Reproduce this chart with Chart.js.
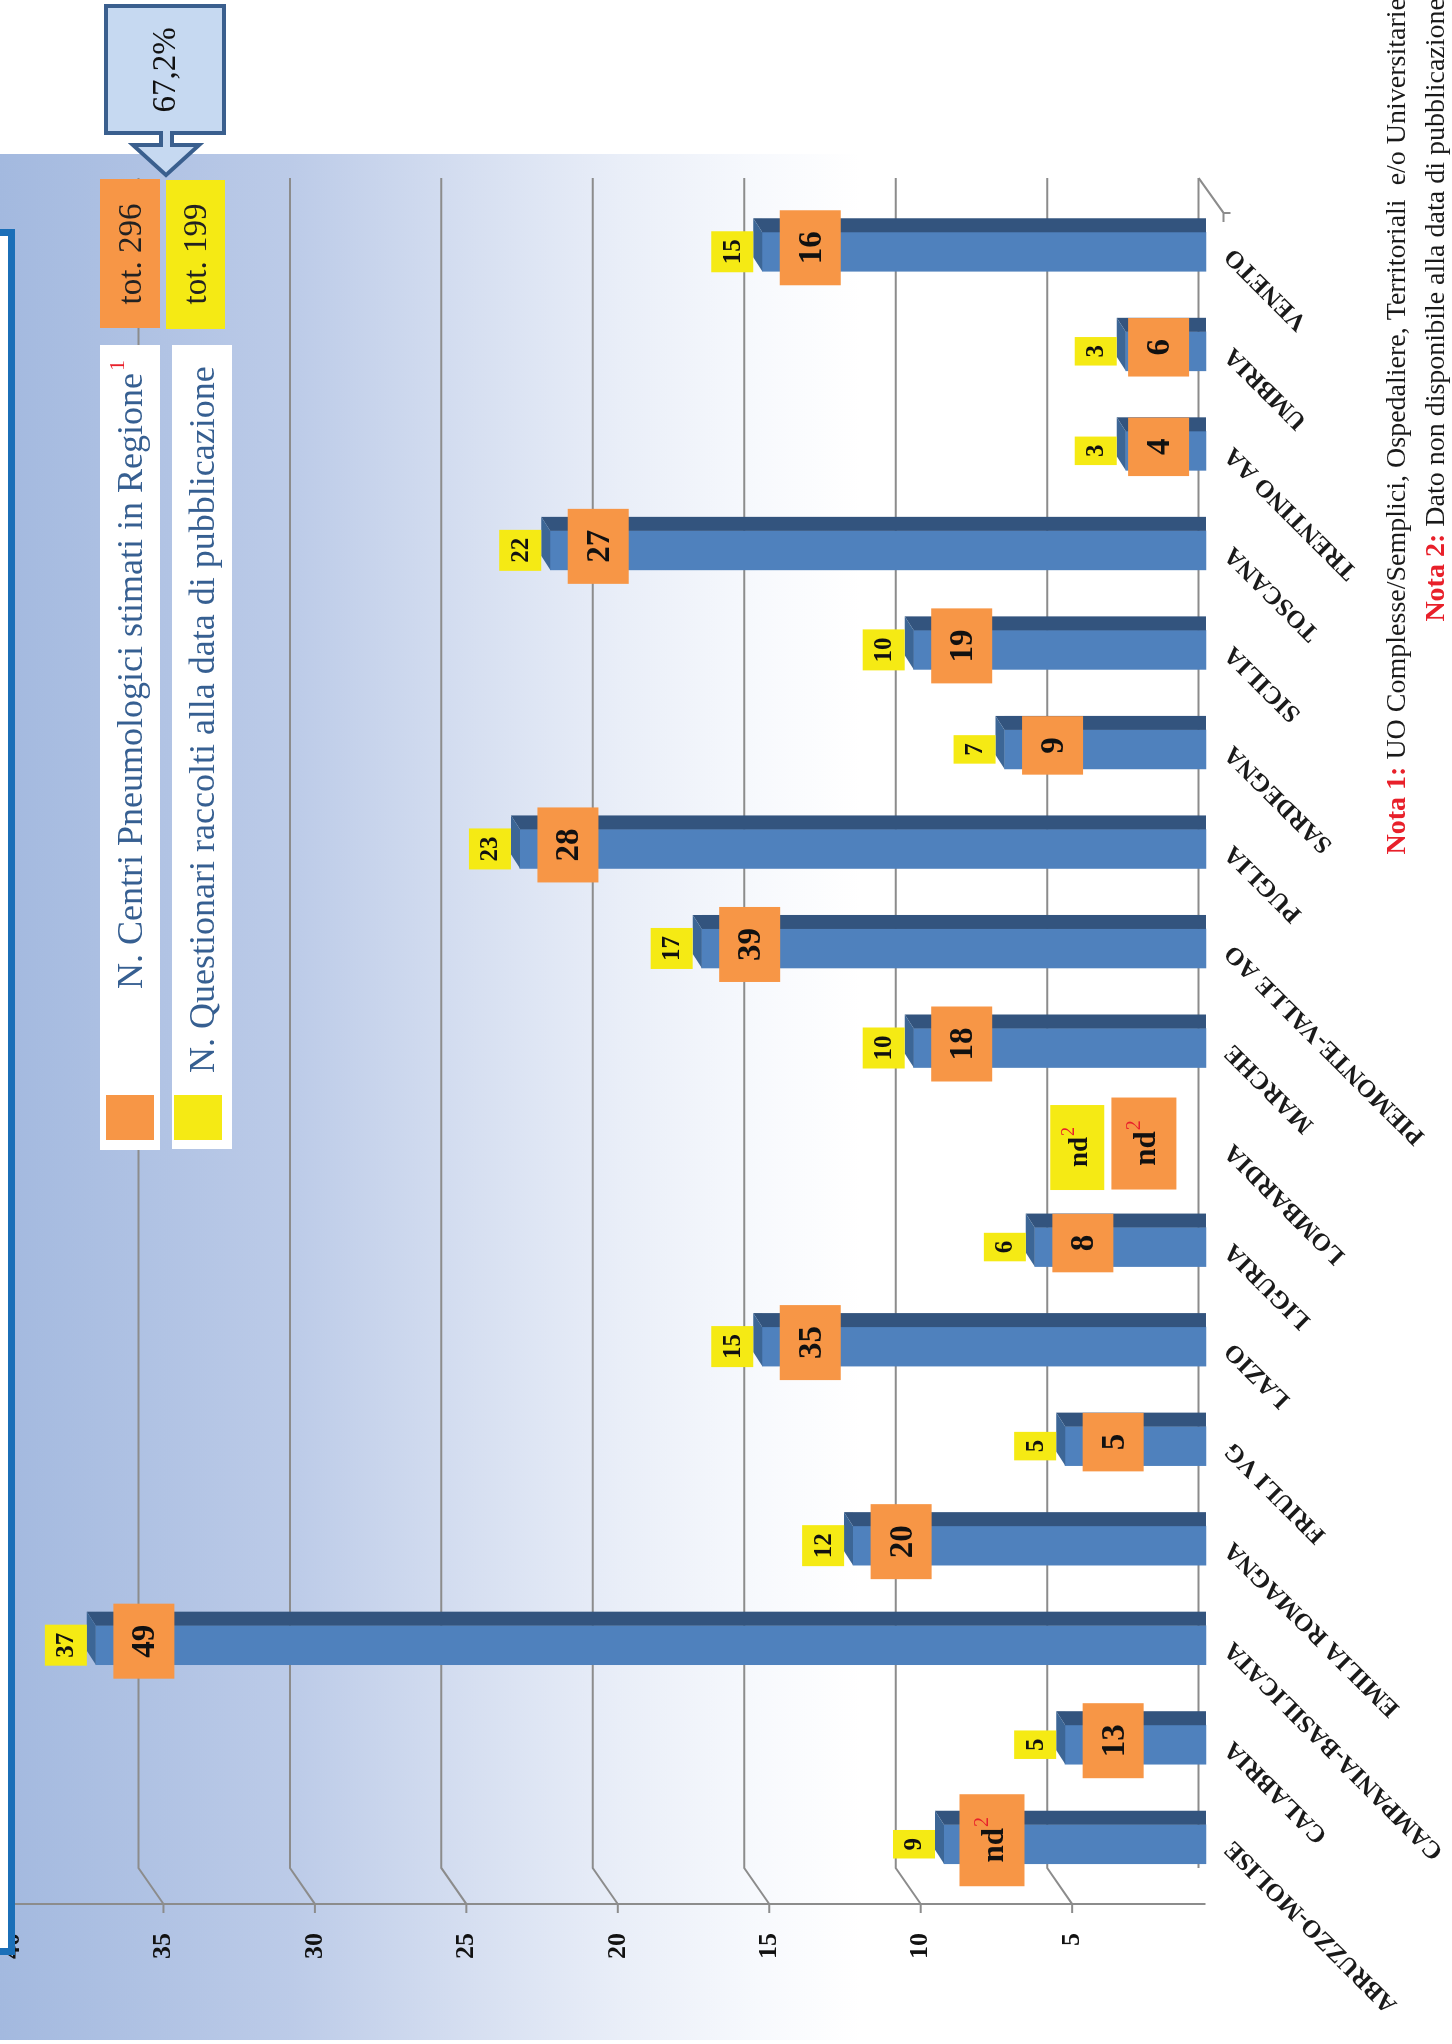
<!DOCTYPE html>
<html>
<head>
<meta charset="utf-8">
<script src="https://cdn.jsdelivr.net/npm/chart.js@4.4.0/dist/chart.umd.min.js"></script>
<style>
html, body { margin:0; padding:0; background:#fff; overflow:hidden; width:1452px; height:2044px; }
#wrap { position:absolute; left:0; top:0; width:2044px; height:1452px; transform-origin:0 0; transform:translate(0,2044px) rotate(-90deg); }
</style>
</head>
<body>
<div id="wrap"><canvas id="grafico" width="2044" height="1452"></canvas></div>
<script>
// dati
const regioni = ['ABRUZZO-MOLISE','CALABRIA','CAMPANIA-BASILICATA','EMILIA ROMAGNA','FRIULI VG','LAZIO','LIGURIA','LOMBARDIA','MARCHE','PIEMONTE-VALLE AO','PUGLIA','SARDEGNA','SICILIA','TOSCANA','TRENTINO AA','UMBRIA','VENETO'];
const centri = [null,13,49,20,5,35,8,null,18,39,28,9,19,27,4,6,16];        // N. Centri Pneumologici (nd = null)
const questionari = [9,5,37,12,5,15,6,null,10,17,23,7,10,22,3,3,15];     // N. Questionari raccolti
const valoriAsse = [0,5,10,15,20,25,30,35,40];
const legendaCentri = 'N. Centri Pneumologici stimati in Regione';
const legendaQuest = 'N. Questionari raccolti alla data di pubblicazione';
const nota1 = ['Nota 1:', ' UO Complesse/Semplici, Ospedaliere, Territoriali  e/o Universitarie'];
const nota2 = ['Nota 2:', ' Dato non disponibile alla data di pubblicazione'];

const totC = centri.reduce((a,b)=>a+(b||0),0);
const totQ = questionari.reduce((a,b)=>a+(b||0),0);
const perc = (totQ/totC*100).toFixed(1).replace('.',',') + '%';

const SERIF = '"Liberation Serif", "Times New Roman", serif';
const ARANCIO = '#f79646', GIALLO = '#f5ea14';

function box(ctx, cx, cy, w, h, col){
	ctx.fillStyle = col;
	ctx.fillRect(cx-w/2, cy-h/2, w, h);
}
function testoNd(ctx, cx, cy, size){
	ctx.font = 'bold '+size+'px '+SERIF;
	const w1 = ctx.measureText('nd').width;
	ctx.font = Math.round(size*0.65)+'px '+SERIF;
	const w2 = ctx.measureText('2').width;
	const x0 = cx-(w1+w2)/2;
	ctx.textAlign = 'left'; ctx.textBaseline = 'middle';
	ctx.fillStyle = '#111';
	ctx.font = 'bold '+size+'px '+SERIF;
	ctx.fillText('nd', x0, cy+3);
	ctx.fillStyle = '#e8202a';
	ctx.font = Math.round(size*0.65)+'px '+SERIF;
	ctx.fillText('2', x0+w1+1, cy-size*0.3);
}

const sfondo = {
	id:'sfondo',
	beforeDraw(chart){
		const ctx = chart.ctx;
		const g = ctx.createLinearGradient(0,0,0,860);
		g.addColorStop(0,'#a3b9df');
		g.addColorStop(0.34,'#bccbe8');
		g.addColorStop(0.55,'#d6dff1');
		g.addColorStop(0.72,'#e9eef8');
		g.addColorStop(0.88,'#f7f9fd');
		g.addColorStop(1,'#ffffff');
		ctx.save();
		ctx.fillStyle = g;
		ctx.fillRect(4,0,1886,1452);
		ctx.restore();
	},
	beforeDatasetsDraw(chart){
		const ctx = chart.ctx, y = chart.scales.y;
		ctx.save();
		ctx.strokeStyle = '#8c8c8c';
		ctx.lineWidth = 2;
		valoriAsse.forEach(v=>{
			const p = y.getPixelForValue(v);
			if (v < 40){
				ctx.beginPath();
				ctx.moveTo(1866,p-18);
				ctx.lineTo(176,p-18);
				if (v > 0) ctx.lineTo(140,p+7);
				ctx.stroke();
			}
			if (v > 0){
				ctx.beginPath();
				ctx.moveTo(140,p+7); ctx.lineTo(131,p+7);
				ctx.stroke();
			}
		});
		// asse dei valori
		ctx.beginPath();
		ctx.moveTo(140,y.getPixelForValue(40)+7);
		ctx.lineTo(140,y.getPixelForValue(0)-11);
		ctx.stroke();
		// bordo del pavimento
		const p0 = y.getPixelForValue(0);
		ctx.beginPath();
		ctx.moveTo(1866,p0-18); ctx.lineTo(1831,p0+7); ctx.lineTo(1831,p0+14);
		ctx.moveTo(1831,p0+7); ctx.lineTo(1822,p0+7);
		ctx.stroke();
		ctx.restore();
	}
};

const barre3d = {
	id:'barre3d',
	afterDatasetsDraw(chart){
		const ctx = chart.ctx, meta = chart.getDatasetMeta(0);
		const xs = chart.scales.x, ys = chart.scales.y;
		ctx.save();
		meta.data.forEach((bar,i)=>{
			if (questionari[i] == null) return;
			const {x,y,base,width} = bar.getProps(['x','y','base','width'],true);
			const L = x-width/2, R = x+width/2;
			ctx.fillStyle = '#33547e';
			ctx.beginPath();
			ctx.moveTo(R,y); ctx.lineTo(R+14,y-9); ctx.lineTo(R+14,base); ctx.lineTo(R,base);
			ctx.closePath(); ctx.fill();
			ctx.fillStyle = '#3c6696';
			ctx.beginPath();
			ctx.moveTo(L,y); ctx.lineTo(L+14,y-9); ctx.lineTo(R+14,y-9); ctx.lineTo(R,y);
			ctx.closePath(); ctx.fill();
		});
		// etichette
		const p0 = ys.getPixelForValue(0);
		regioni.forEach((r,i)=>{
			const x = xs.getPixelForValue(i);
			const q = questionari[i], c = centri[i];
			ctx.textAlign = 'center'; ctx.textBaseline = 'middle';
			if (q != null){
				ctx.font = 'bold 25px '+SERIF;
				const w = ctx.measureText(String(q)).width + 16;
				const cy = ys.getPixelForValue(q) - 30;
				box(ctx, x, cy, w, 42, GIALLO);
				ctx.fillStyle = '#111';
				ctx.fillText(String(q), x, cy+1);
			} else {
				const cy = ys.getPixelForValue(4.6);
				box(ctx, x, cy, 85, 54, GIALLO);
				testoNd(ctx, x, cy, 27);
			}
			const oy = q != null ? Math.min(ys.getPixelForValue(q)+48, p0-58) : ys.getPixelForValue(2.4);
			if (c != null){
				ctx.font = 'bold 33px '+SERIF;
				const w = ctx.measureText(String(c)).width + 42;
				box(ctx, x+4, oy, w, 61, ARANCIO);
				ctx.textAlign = 'center'; ctx.textBaseline = 'middle';
				ctx.fillStyle = '#111';
				ctx.fillText(String(c), x+4, oy+2);
			} else {
				box(ctx, x+4, oy, 92, 65, ARANCIO);
				testoNd(ctx, x+4, oy, 31);
			}
		});
		ctx.restore();
	}
};

const decorazioni = {
	id:'decorazioni',
	afterDraw(chart){
		const ctx = chart.ctx;
		ctx.save();
		// legenda
		ctx.fillStyle = '#fff';
		ctx.fillRect(894,100,805,60);
		ctx.fillRect(895,172,804,60);
		ctx.fillStyle = ARANCIO; ctx.fillRect(904,106,45,48);
		ctx.fillStyle = GIALLO; ctx.fillRect(904,174,45,48);
		ctx.textAlign = 'left'; ctx.textBaseline = 'middle';
		ctx.fillStyle = '#365f91';
		ctx.font = '36px '+SERIF;
		ctx.fillText(legendaCentri, 1055, 133);
		const lw = ctx.measureText(legendaCentri).width;
		ctx.fillStyle = '#e8202a';
		ctx.font = '22px '+SERIF;
		ctx.fillText('1', 1055+lw+2, 118);
		ctx.fillStyle = '#365f91';
		ctx.font = '36px '+SERIF;
		ctx.fillText(legendaQuest, 971, 205);
		// totali
		ctx.fillStyle = ARANCIO; ctx.fillRect(1716,100,149,60);
		ctx.fillStyle = GIALLO; ctx.fillRect(1715,166,149,59);
		ctx.fillStyle = '#222';
		ctx.textAlign = 'center';
		ctx.font = '33px '+SERIF;
		ctx.fillText('tot. '+totC, 1790, 132);
		ctx.fillText('tot. '+totQ, 1790, 197);
		// richiamo con freccia
		ctx.beginPath();
		ctx.moveTo(2038,106); ctx.lineTo(2038,224); ctx.lineTo(1911,224);
		ctx.lineTo(1911,172); ctx.lineTo(1899,172); ctx.lineTo(1899,199);
		ctx.lineTo(1869,166);
		ctx.lineTo(1899,133); ctx.lineTo(1899,161); ctx.lineTo(1911,161);
		ctx.lineTo(1911,106); ctx.closePath();
		ctx.fillStyle = '#c6d9f1'; ctx.fill();
		ctx.strokeStyle = '#3a5f8e'; ctx.lineWidth = 4; ctx.lineJoin = 'miter'; ctx.stroke();
		ctx.fillStyle = '#111';
		ctx.font = '33px '+SERIF;
		ctx.fillText(perc, 1974, 166);
		// note
		[[nota1,1405],[nota2,1444]].forEach(([n,yb])=>{
			ctx.textBaseline = 'alphabetic'; ctx.textAlign = 'left';
			ctx.font = 'bold 28px '+SERIF;
			const w1 = ctx.measureText(n[0]).width;
			ctx.font = '28px '+SERIF;
			const w2 = ctx.measureText(n[1]).width;
			const x0 = 2046 - w1 - w2;
			ctx.fillStyle = '#e8202a';
			ctx.font = 'bold 28px '+SERIF;
			ctx.fillText(n[0], x0, yb);
			ctx.fillStyle = '#1a1a1a';
			ctx.font = '28px '+SERIF;
			ctx.fillText(n[1], x0+w1, yb);
		});
		// riquadro tagliato a sinistra
		ctx.fillStyle = '#fff';
		ctx.fillRect(89,-20,1726,35);
		ctx.strokeStyle = '#1b6fb8'; ctx.lineWidth = 7;
		ctx.strokeRect(92.5,-30,1719,41.5);
		ctx.restore();
	}
};

new Chart(document.getElementById('grafico'), {
	type:'bar',
	data:{
		labels: regioni,
		datasets:[{
			label: legendaQuest,
			data: questionari,
			backgroundColor:'#4f81bd',
			barThickness:39,
			base:0.35
		}]
	},
	options:{
		responsive:false,
		devicePixelRatio:1,
		animation:false,
		layout:{ padding:{ top:5, right:202, left:0, bottom:0 } },
		scales:{
			x:{
				grid:{ display:false, drawTicks:false },
				border:{ display:false },
				ticks:{
					autoSkip:false, minRotation:45, maxRotation:45, padding:2,
					color:'#1a1a1a',
					font:{ family:SERIF, size:25, weight:'bold' }
				},
				afterFit(s){ s.height = 235.4; }
			},
			y:{
				min:0, max:40,
				grid:{ display:false, drawTicks:false },
				border:{ display:false },
				ticks:{
					stepSize:5, padding:39, labelOffset:7,
					color:'#111',
					font:{ family:SERIF, size:26, weight:'bold' },
					callback:(v)=> v === 0 ? '' : v
				},
				afterFit(s){ s.width = 150; s.paddingTop = 0; s.paddingBottom = 0; }
			}
		},
		plugins:{ legend:{ display:false }, tooltip:{ enabled:false } }
	},
	plugins:[sfondo, barre3d, decorazioni]
});
</script>
</body>
</html>
